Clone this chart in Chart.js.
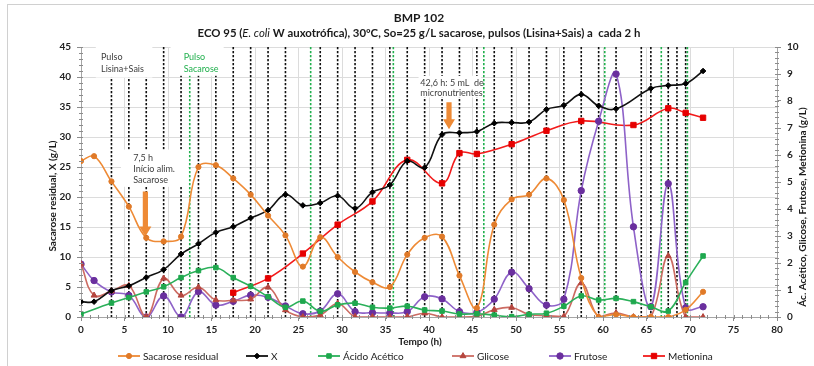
<!DOCTYPE html>
<html><head><meta charset="utf-8">
<script src="https://cdn.jsdelivr.net/npm/chart.js@4.4.1/dist/chart.umd.min.js"></script>
<style>html,body{margin:0;padding:0;background:#fff;overflow:hidden}canvas{display:block}</style>
</head><body>
<canvas id="c" width="814" height="366"></canvas>
<script>
// ---- data ----
const tSacarose = [0,1.5,3.5,5.5,7.5,9.5,11.5,13.5,15.5,17.5,19.5,21.5,23.5,25.5,27.5,29.5,31.5,33.5,35.5,37.5,39.5,41.5,43.5,45.5,47.5,49.5,51.5,53.5,55.5,57.5,59.5,61.5,63.5,65.5,67.5,69.5,71.5];
const sacarose = [26.0,26.8,22.6,18.4,13.2,12.6,13.4,25.0,25.3,23.1,20.4,16.9,13.6,8.4,13.3,10.0,7.5,5.8,5.0,10.4,13.2,13.4,6.9,1.5,15.4,19.6,20.4,23.1,19.5,6.5,0.0,0.4,0.0,0.0,0.0,1.2,4.2];
const tX = [0,1.5,3.5,5.5,7.5,9.5,11.5,13.5,15.5,17.5,19.5,21.5,23.5,25.5,27.5,29.5,31.5,33.5,35.5,37.5,39.5,41.5,43.5,45.5,47.5,49.5,51.5,53.5,55.5,57.5,59.5,61.5,65.5,67.5,69.5,71.5];
const biomassaX = [2.55,2.55,4.4,5.2,6.6,7.9,10.5,12.2,14.1,15.05,16.5,17.8,20.4,18.6,19.0,20.2,18.1,20.8,22.0,26.0,24.9,30.4,30.7,30.9,32.3,32.4,32.5,34.6,35.3,37.1,35.2,34.7,38.1,38.6,38.9,41.0];
const tAcetico = [0,3.5,5.5,7.5,9.5,11.5,13.5,15.5,17.5,19.5,21.5,23.5,25.5,27.5,29.5,31.5,33.5,35.5,37.5,39.5,41.5,43.5,45.5,47.5,49.5,51.5,53.5,55.5,57.5,59.5,61.5,63.5,65.5,67.5,69.5,71.5];
const acidoAcetico = [0.11,0.52,0.72,0.93,1.12,1.46,1.72,1.83,1.46,1.14,0.75,0.36,0.59,0.21,0.45,0.51,0.36,0.33,0.40,0.26,0.22,0.11,0.12,0.07,0.01,0.10,0.14,0.40,0.78,0.63,0.69,0.57,0.38,0.22,1.28,2.26];
const tGlicose = [0,1.5,3.5,5.5,7.5,9.5,11.5,13.5,15.5,17.5,19.5,21.5,23.5,25.5,27.5,29.5,31.5,33.5,35.5,37.5,39.5,41.5,43.5,45.5,47.5,49.5,51.5,53.5,55.5,57.5,59.5,61.5,63.5,65.5,67.5,69.5,71.5];
const glicose = [1.96,0.80,0.96,1.16,0.00,1.43,0.80,1.10,0.63,0.62,0.66,1.10,0.26,0.00,0.07,0.50,0.01,0.00,0.00,0.01,0.14,0.00,0.00,0.02,0.27,0.35,0.09,0.05,0.02,1.26,0.00,0.15,0.00,0.00,2.26,0.00,0.00];
const tFrutose = [0,1.5,3.5,5.5,7.5,9.5,11.5,13.5,15.5,17.5,19.5,21.5,23.5,25.5,27.5,29.5,31.5,33.5,35.5,37.5,39.5,41.5,43.5,45.5,47.5,49.5,51.5,53.5,55.5,57.5,59.5,61.5,63.5,65.5,67.5,69.5,71.5];
const frutose = [1.96,1.35,0.93,0.80,0.00,0.78,0.00,0.94,0.44,0.58,0.81,0.73,0.41,0.12,0.22,0.86,0.20,0.16,0.15,0.20,0.75,0.67,0.20,0.17,0.66,1.66,1.05,0.44,0.66,4.68,7.25,9.00,3.34,0.38,4.94,0.34,0.38];
const tMetionina = [17.5,21.5,25.5,29.5,33.5,37.5,41.5,43.5,45.5,49.5,53.5,57.5,63.5,67.5,69.5,71.5];
const metionina = [0.90,1.43,2.35,3.42,4.28,5.82,4.95,6.07,6.04,6.40,6.90,7.26,7.11,7.73,7.56,7.38];
// pulse times (vertical dashed lines)
const pulsoLisinaSais = [3.5,5.5,7.5,9.5,11.5,13.5,15.5,17.5,19.5,21.5,23.5,27.5,29.5,31.5,33.5,35.5,37.5,39.5,41.5,43.5,45.5,47.5,49.5,51.5,53.5,55.5,57.5,59.5,61.5,64.4,65.5,67.5,68.5,69.5];
const pulsoSacarose = [12.5,26.4,35.9,46.3,60.2,66.7,69.7];
// tick labels
const xTicks = [0,5,10,15,20,25,30,35,40,45,50,55,60,65,70,75,80];

const FF = "Lato, 'Open Sans', sans-serif";
const pts = (ts, vs) => ts.map((t,i)=>({x:t, y:vs[i]}));

const datasets = [
  {label:'Sacarose residual', data:pts(tSacarose,sacarose), yAxisID:'y', borderColor:'#EE8A35', backgroundColor:'#E07A28', pointBorderColor:'#E07A28', pointStyle:'circle', pointRadius:2.6},
  {label:'X', data:pts(tX,biomassaX), yAxisID:'y', borderColor:'#111', backgroundColor:'#000', pointBorderColor:'#000', pointStyle:'rectRot', pointRadius:2.8},
  {label:'Ácido Acético', data:pts(tAcetico,acidoAcetico), yAxisID:'y2', borderColor:'#2BB05A', backgroundColor:'#1FA84E', pointBorderColor:'#1FA84E', pointStyle:'rect', pointRadius:3.2},
  {label:'Glicose', data:pts(tGlicose,glicose), yAxisID:'y2', borderColor:'#CC6B62', backgroundColor:'#B5463E', pointBorderColor:'#B5463E', pointStyle:'triangle', pointRadius:3.4},
  {label:'Frutose', data:pts(tFrutose,frutose), yAxisID:'y2', borderColor:'#8E62C8', backgroundColor:'#6A2F9E', pointBorderColor:'#6A2F9E', pointStyle:'circle', pointRadius:3.2},
  {label:'Metionina', data:pts(tMetionina,metionina), yAxisID:'y2', borderColor:'#F21B1B', backgroundColor:'#E60000', pointBorderColor:'#E60000', pointStyle:'rect', pointRadius:3.8}
].map(d=>Object.assign({borderWidth:1.6, tension:0.4, pointBorderWidth:1, fill:false}, d));

function arrow(ctx, x, y0, y1, color){
  ctx.save();
  ctx.fillStyle = color;
  const hw = 2.6, head = 10, hh = 6;
  ctx.beginPath();
  ctx.moveTo(x-hw, y0); ctx.lineTo(x+hw, y0); ctx.lineTo(x+hw, y1-head);
  ctx.lineTo(x+hh, y1-head); ctx.lineTo(x, y1); ctx.lineTo(x-hh, y1-head);
  ctx.lineTo(x-hw, y1-head); ctx.closePath(); ctx.fill();
  ctx.restore();
}

const decor = {
  id:'decor',
  beforeDatasetsDraw(chart){
    const {ctx, chartArea:a, scales:{x, y}} = chart;
    ctx.save();
    ctx.lineWidth = 1.6;
    ctx.setLineDash([2.2,1.8]);
    ctx.strokeStyle = '#111';
    pulsoLisinaSais.forEach(t=>{const px=x.getPixelForValue(t); ctx.beginPath(); ctx.moveTo(px,a.top); ctx.lineTo(px,a.bottom); ctx.stroke();});
    ctx.strokeStyle = '#22B04E';
    pulsoSacarose.forEach(t=>{const px=x.getPixelForValue(t); ctx.beginPath(); ctx.moveTo(px,a.top); ctx.lineTo(px,a.bottom); ctx.stroke();});
    ctx.setLineDash([]);
    // white label boxes (hide the pulse lines behind text)
    const boxes = [[1.7,8.2,45,39.9],[10.3,16.4,45,40.2],[4.6,12.3,27.9,21.7],[38.8,46.0,40.2,36.6]];
    ctx.fillStyle = '#fff';
    boxes.forEach(b=>{const x0=x.getPixelForValue(b[0]), x1=x.getPixelForValue(b[1]), y0=y.getPixelForValue(b[2]), y1=y.getPixelForValue(b[3]); ctx.fillRect(x0,y0,x1-x0,y1-y0);});
    // annotation texts
    ctx.font = "9px " + FF; ctx.textBaseline = 'middle'; ctx.textAlign = 'left';
    ctx.fillStyle = '#404040';
    ctx.fillText('Pulso', x.getPixelForValue(2.3), y.getPixelForValue(43.3));
    ctx.fillText('Lisina+Sais', x.getPixelForValue(2.3), y.getPixelForValue(41.4));
    ctx.fillText('7,5 h', x.getPixelForValue(6.0), y.getPixelForValue(26.5));
    ctx.fillText('Início alim.', x.getPixelForValue(6.0), y.getPixelForValue(24.7));
    ctx.fillText('Sacarose', x.getPixelForValue(6.0), y.getPixelForValue(22.9));
    ctx.fillText('42,6 h: 5 mL  de', x.getPixelForValue(39.0), y.getPixelForValue(39.0));
    ctx.fillText('micronutrientes', x.getPixelForValue(39.0), y.getPixelForValue(37.4));
    ctx.fillStyle = '#22B04E';
    ctx.fillText('Pulso', x.getPixelForValue(11.8), y.getPixelForValue(43.3));
    ctx.fillText('Sacarose', x.getPixelForValue(11.8), y.getPixelForValue(41.4));
    // arrows
    arrow(ctx, x.getPixelForValue(7.4), y.getPixelForValue(20.9), y.getPixelForValue(13.4), '#EE8A35');
    arrow(ctx, x.getPixelForValue(42.3), y.getPixelForValue(35.8), y.getPixelForValue(31.3), '#EE8A35');
    ctx.restore();
  },
  afterDraw(chart){
    const {ctx, chartArea:a, scales:{x, y, y2}} = chart;
    ctx.save();
    // minor ticks
    ctx.strokeStyle = '#8c8c8c'; ctx.lineWidth = 1;
    ctx.beginPath();
    for(let v=0; v<=45; v+=1){const py=Math.round(y.getPixelForValue(v))+0.5; ctx.moveTo(a.left-2,py); ctx.lineTo(a.left+2,py);}
    for(let v=0; v<=80; v+=1){const px=Math.round(x.getPixelForValue(v))+0.5; ctx.moveTo(px,a.bottom-2); ctx.lineTo(px,a.bottom+2);}
    for(let v=0; v<=10.001; v+=0.2){const py=Math.round(y2.getPixelForValue(v))+0.5; ctx.moveTo(a.right-2,py); ctx.lineTo(a.right+2,py);}
    ctx.stroke();
    // outer frame
    ctx.strokeStyle = '#d0d0d0';
    ctx.strokeRect(7.5, 4.5, 900, 900);
    // titles
    ctx.fillStyle = '#1a1a1a'; ctx.textBaseline = 'middle'; ctx.textAlign = 'center';
    ctx.font = "bold 12px " + FF;
    ctx.fillText('BMP 102', 419, 18);
    const segs = [['ECO 95 (','bold'],['E. coli','italic'],[' W auxotrófica), 30ºC, So=25 g/L sacarose, pulsos (Lisina+Sais) a  cada 2 h','bold']];
    let size = 12;
    const measure = s => segs.reduce((w,g)=>{ctx.font = g[1]+' '+s+'px '+FF; return w+ctx.measureText(g[0]).width;},0);
    size = size*443/measure(size);
    let cx = 419 - measure(size)/2;
    ctx.textAlign = 'left';
    segs.forEach(g=>{ctx.font = g[1]+' '+size+'px '+FF; ctx.fillText(g[0], cx, 33.5); cx += ctx.measureText(g[0]).width;});
    // axis titles
    ctx.font = "bold 10px " + FF; ctx.textAlign = 'center';
    ctx.fillText('Tempo (h)', 420, 342);
    ctx.save(); ctx.translate(53, 196); ctx.rotate(-Math.PI/2); ctx.fillText('Sacarose residual, X (g/L)', 0, 0); ctx.restore();
    ctx.save(); ctx.translate(803, 207); ctx.rotate(-Math.PI/2); ctx.fillText('Ác. Acético, Glicose, Frutose, Metionina (g/L)', 0, 0); ctx.restore();
    // legend
    const legX = [118, 246, 318, 452, 549, 643];
    const ly = 356;
    ctx.font = "10px " + FF; ctx.textAlign = 'left';
    chart.data.datasets.forEach((d,i)=>{
      const x0 = legX[i];
      ctx.strokeStyle = d.borderColor; ctx.lineWidth = 1.8;
      ctx.beginPath(); ctx.moveTo(x0, ly); ctx.lineTo(x0+22, ly); ctx.stroke();
      ctx.fillStyle = d.backgroundColor; ctx.strokeStyle = d.pointBorderColor; ctx.lineWidth = 1;
      Chart.helpers.drawPoint(ctx, {pointStyle:d.pointStyle, radius:d.pointRadius, rotation:0, borderWidth:1}, x0+11, ly);
      ctx.fillStyle = '#1a1a1a';
      ctx.fillText(d.label, x0+25, ly+0.5);
    });
    ctx.restore();
  }
};

const tickFont = {family:FF, size:10, weight:'bold'};
new Chart(document.getElementById('c'), {
  type:'line',
  data:{datasets},
  options:{
    responsive:false, animation:false, devicePixelRatio:1,
    layout:{padding:{top:47, left:0, right:0, bottom:0}},
    plugins:{legend:{display:false}, title:{display:false}, tooltip:{enabled:false}},
    scales:{
      x:{type:'linear', min:0, max:80,
        afterBuildTicks:s=>{s.ticks = xTicks.map(v=>({value:v}));},
        afterFit:s=>{s.height = 49;},
        grid:{color:'#dcdcdc', tickLength:4, tickColor:'#8c8c8c'},
        border:{color:'#a6a6a6'},
        ticks:{font:tickFont, color:'#222', padding:3, maxRotation:0}},
      y:{position:'left', min:0, max:45,
        ticks:{stepSize:5, font:tickFont, color:'#222', padding:6},
        afterFit:s=>{s.width = 81;},
        grid:{color:'#dcdcdc', tickLength:4, tickColor:'#8c8c8c'},
        border:{color:'#a6a6a6'}},
      y2:{position:'right', min:0, max:10,
        ticks:{stepSize:1, font:tickFont, color:'#222', padding:6},
        afterFit:s=>{s.width = 37;},
        grid:{drawOnChartArea:false, tickLength:4, tickColor:'#8c8c8c'},
        border:{color:'#a6a6a6'}}
    }
  },
  plugins:[decor]
});
</script>
</body></html>
